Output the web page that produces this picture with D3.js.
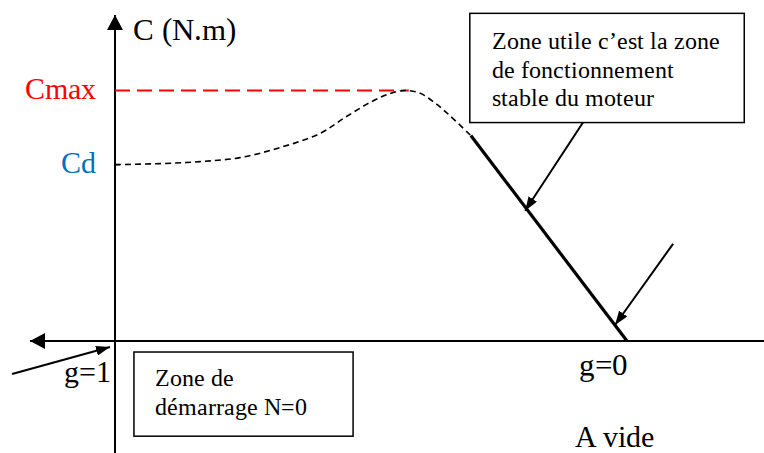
<!DOCTYPE html>
<html><head><meta charset="utf-8">
<script src="https://cdn.jsdelivr.net/npm/d3@7"></script>
<style>
@font-face { font-family: "RefSerif"; src: local("Liberation Serif"), local("LiberationSerif"), local("LiberationSerif-Regular"), local("Tinos"), local("Times New Roman"); }
body { margin: 0; }
.lbl { font-family: "RefSerif", "Liberation Serif", "Tinos", "Times New Roman", "DejaVu Serif"; }
</style>
</head>
<body>
<svg id="chart" width="764" height="453"></svg>
<script>
// ---- data (slip g, torque C normalised to Cmax) ----
const curveG = [1.0, 0.912, 0.834, 0.756, 0.678, 0.600, 0.551, 0.502, 0.463, 0.434, 0.405, 0.375, 0.346, 0.305];
const curveC = [0.704, 0.708, 0.716, 0.732, 0.772, 0.828, 0.892, 0.952, 0.988, 1.0, 0.99, 0.95, 0.90, 0.82];
const stableG = [0.305, 0];
const stableC = [0.82, 0];
const levelNames = ["Cmax", "Cd"];
const levelValues = [1.0, 0.704];
const levelColors = ["#ff0000", "#0070c0"];
const slipLabels = ["g=1", "g=0"];
const slipValues = [1, 0];
const yAxisTitle = "C (N.m)";
const noLoadLabel = "A vide";
const usefulZoneText = ["Zone utile c\u2019est la zone", "de fonctionnement", "stable du moteur"];
const startZoneText = ["Zone de", "d\u00e9marrage N=0"];
// annotation arrows: [fromG, fromC, toG, toC]
const arrowFromG = [0.086, -0.090, 1.201];
const arrowFromC = [0.872, 0.388, -0.132];
const arrowToG = [0.199, 0.0234, 1.0098];
const arrowToC = [0.52, 0.064, -0.024];
// annotation boxes: [g0, g1, C0, C1]
const boxG0 = [0.307, 0.963];
const boxG1 = [-0.229, 0.535];
const boxC0 = [1.308, -0.044];
const boxC1 = [0.872, -0.380];

const svg = d3.select("#chart");
const x = d3.scaleLinear().domain([1, 0]).range([115, 627]);
const y = d3.scaleLinear().domain([0, 1]).range([341, 90.5]);

const texts = [];
function label(xp, yp, txt, anchor, size, color) {
  texts.push({xp, yp, txt, anchor, size, color: color || "#000"});
}

// arrow markers
const defs = svg.append("defs");
function marker(id, w, h) {
  defs.append("marker").attr("id", id).attr("viewBox", `0 0 ${w} ${h}`)
    .attr("refX", w).attr("refY", h / 2).attr("markerWidth", w).attr("markerHeight", h)
    .attr("markerUnits", "userSpaceOnUse").attr("orient", "auto")
    .append("path").attr("d", `M0,0L${w},${h/2}L0,${h}Z`).attr("fill", "#000");
}
marker("axisHead", 15, 16);
marker("callHead", 14, 10);

// axes lines
svg.append("line").attr("x1", x(1)).attr("x2", x(1)).attr("y1", 453).attr("y2", 15)
  .attr("stroke", "#000").attr("stroke-width", 2).attr("marker-end", "url(#axisHead)");
svg.append("line").attr("x1", 764).attr("x2", 30).attr("y1", y(0)).attr("y2", y(0))
  .attr("stroke", "#000").attr("stroke-width", 2).attr("marker-end", "url(#axisHead)");

// small tick at Cd
svg.append("line").attr("x1", x(1)).attr("x2", x(1) + 5).attr("y1", y(levelValues[1])).attr("y2", y(levelValues[1]))
  .attr("stroke", "#000").attr("stroke-width", 1.5);

// Cmax dashed red
svg.append("line").attr("x1", x(1)).attr("x2", x(curveG[9]) + 4).attr("y1", y(levelValues[0])).attr("y2", y(levelValues[0]))
  .attr("stroke", "#ff0000").attr("stroke-width", 2).attr("stroke-dasharray", "15,7");

// dashed torque curve
const line = d3.line().x(d => x(d[0])).y(d => y(d[1])).curve(d3.curveCatmullRom);
svg.append("path").datum(curveG.map((g, i) => [g, curveC[i]])).attr("d", line)
  .attr("fill", "none").attr("stroke", "#000").attr("stroke-width", 1.6).attr("stroke-dasharray", "6,4");

// stable zone solid line
svg.append("path").datum(stableG.map((g, i) => [g, stableC[i]])).attr("d", d3.line().x(d => x(d[0])).y(d => y(d[1])))
  .attr("fill", "none").attr("stroke", "#000").attr("stroke-width", 3.2);

// boxes
const boxTexts = [usefulZoneText, startZoneText];
const boxTextDx = [22, 21];
const boxTextY0 = [36, 34];
boxG0.forEach((g0, i) => {
  const bx = x(g0), by = y(boxC0[i]);
  const bw = x(boxG1[i]) - bx, bh = y(boxC1[i]) - by;
  svg.append("rect").attr("x", bx).attr("y", by).attr("width", bw).attr("height", bh)
    .attr("fill", "#fff").attr("stroke", "#000").attr("stroke-width", 1.5);
  boxTexts[i].forEach((s, j) => {
    label(bx + boxTextDx[i], by + boxTextY0[i] + j * 28.5, s, "start", 24);
  });
});

// callout arrows
arrowFromG.forEach((g, i) => {
  svg.append("line").attr("x1", x(g)).attr("y1", y(arrowFromC[i]))
    .attr("x2", x(arrowToG[i])).attr("y2", y(arrowToC[i]))
    .attr("stroke", "#000").attr("stroke-width", 2).attr("marker-end", "url(#callHead)");
});

// y level labels (Cmax, Cd), positioned by the y scale
levelValues.forEach((v, i) => label(x(1) - 19, y(v) + 8, levelNames[i], "end", 30, levelColors[i]));
label(x(1) + 18, 40, yAxisTitle, "start", 31);
label(x(slipValues[0]) - 4, 382, slipLabels[0], "end", 30);
label(x(slipValues[1]) - 24, 375, slipLabels[1], "middle", 31);
label(x(slipValues[1]) - 13, 447, noLoadLabel, "middle", 30);

texts.forEach(t => {
  svg.append("text").attr("class", "lbl").attr("x", t.xp).attr("y", t.yp)
    .style("font-size", t.size + "px")
    .attr("text-anchor", t.anchor).attr("fill", t.color).text(t.txt);
});
</script>
</body></html>
